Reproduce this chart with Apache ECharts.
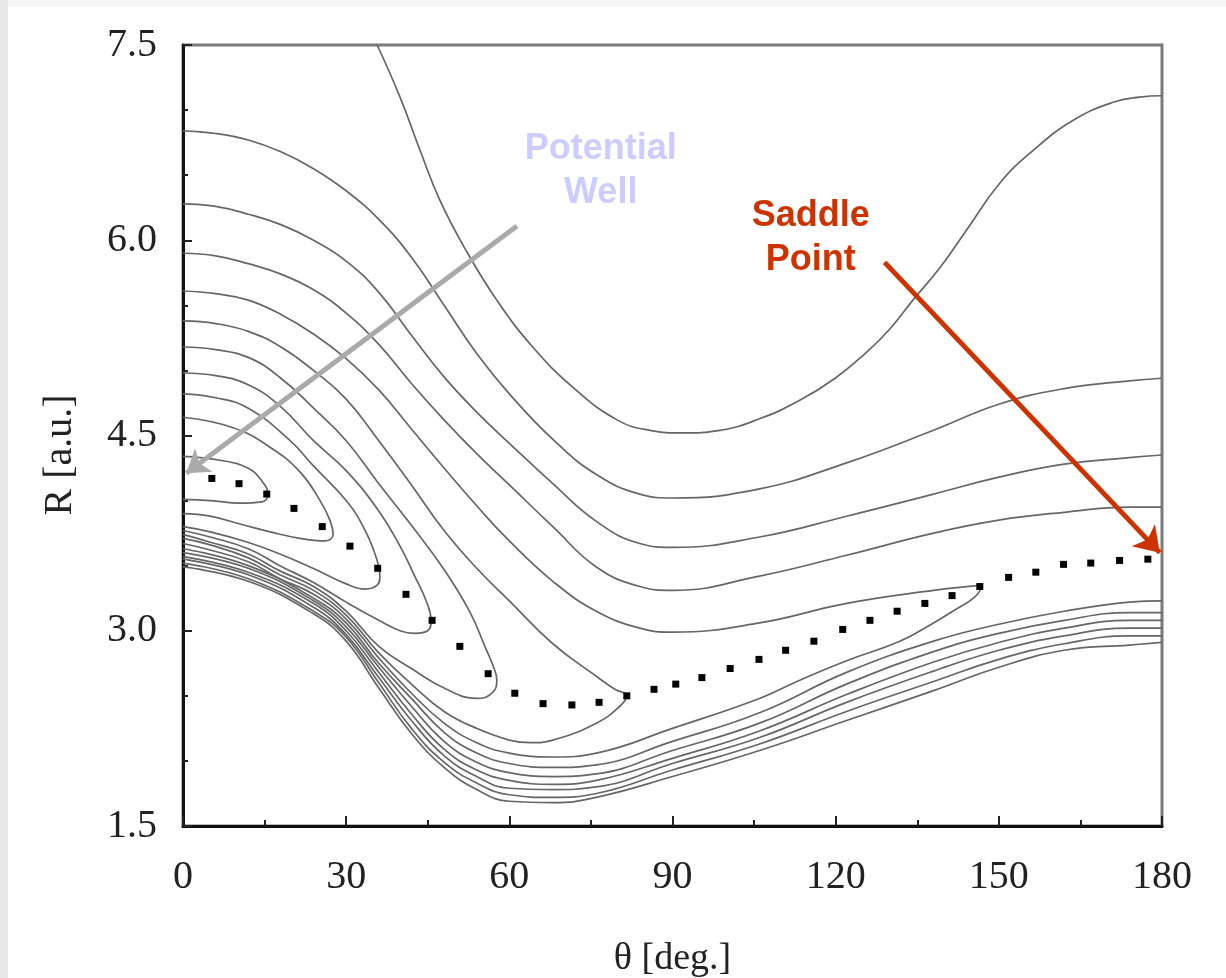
<!DOCTYPE html>
<html><head><meta charset="utf-8">
<script src="https://cdn.jsdelivr.net/npm/echarts@6/dist/echarts.min.js"></script>
<style>html,body{margin:0;padding:0;background:#fff}#c{width:1226px;height:978px}</style>
</head><body><div id="c"></div>
<script>
// theta samples shared by some contour branches
const upperTheta = [0,6,12,18,24,30,36,42,48,54,60,68,76,84,90,106,122,138,150,162,174,180];
const bandTheta  = [0,12,24,30,36,42,48,54,60,68,76,90,106,122,138,150,162,174,180];

// open contours (upper branches), R values at upperTheta
const contourB = [6.84,6.82,6.77,6.68,6.55,6.38,6.16,5.87,5.50,5.13,4.82,4.47,4.20,4.05,4.02,4.09,4.29,4.54,4.74,4.86,4.92,4.94];
const contourC = [6.28,6.26,6.20,6.12,6.00,5.84,5.60,5.27,4.95,4.68,4.44,4.13,3.84,3.67,3.64,3.72,3.88,4.05,4.18,4.28,4.33,4.35];
const contourD = [5.90,5.88,5.82,5.74,5.62,5.44,5.20,4.90,4.62,4.36,4.12,3.80,3.49,3.34,3.31,3.42,3.58,3.75,3.85,3.91,3.95,3.95];

// lower branches along the repulsive wall, R values at bandTheta
const lowerP1 = [3.63,3.50,3.25,3.06,2.75,2.48,2.22,2.06,1.98,1.95,1.97,2.15,2.37,2.68,2.92,3.05,3.15,3.22,3.23];
const lowerP2 = [3.60,3.48,3.23,3.03,2.72,2.42,2.15,1.99,1.91,1.88,1.90,2.08,2.29,2.59,2.84,2.98,3.08,3.14,3.14];
const lowerP3 = [3.57,3.45,3.21,3.00,2.68,2.36,2.09,1.93,1.85,1.82,1.85,2.02,2.23,2.51,2.76,2.91,3.02,3.08,3.08];
const lowerP4 = [3.55,3.43,3.18,2.97,2.64,2.31,2.04,1.88,1.79,1.78,1.80,1.98,2.18,2.45,2.69,2.85,2.96,3.02,3.02];
const lowerP5 = [3.52,3.40,3.15,2.95,2.60,2.25,1.99,1.83,1.74,1.72,1.75,1.93,2.13,2.38,2.61,2.78,2.90,2.96,2.96];
const lowerP6 = [3.49,3.38,3.13,2.92,2.56,2.21,1.95,1.78,1.69,1.68,1.72,1.88,2.08,2.31,2.54,2.72,2.85,2.89,2.91];

// outermost contour (top edge to right edge)
const contourA = [[35.7,7.50],[39.9,7.10],[43.6,6.69],[47.2,6.31],[51.8,5.94],[57.7,5.54],[64.3,5.18],[71.7,4.87],[79.8,4.62],[85.8,4.54],[91.9,4.52],[98.7,4.54],[106.1,4.63],[113.4,4.77],[119.9,4.94],[125.7,5.14],[130.0,5.32],[134.2,5.54],[139.2,5.79],[144.1,6.08],[150.2,6.44],[156.3,6.69],[163.6,6.92],[171.0,7.06],[175.9,7.10],[180,7.11]];

// closed loops around the well (clipped at theta = 0)
const loopE = [[0,5.61],[6,5.59],[12,5.54],[18,5.43],[24,5.28],[30,5.09],[36,4.85],[42,4.55],[48,4.25],[54,3.96],[60,3.69],[68,3.38],[76,3.15],[84,3.02],[90,2.99],[106,3.06],[122,3.21],[138,3.31],[147,3.35],[145.6,3.26],[141.9,3.16],[138,3.06],[131.8,2.92],[122,2.77],[113.4,2.62],[106,2.48],[90,2.25],[76,2.06],[68,2.03],[60,2.06],[54,2.14],[48,2.29],[42,2.52],[36,2.79],[30,3.09],[24,3.28],[17.8,3.40],[12,3.53],[5,3.62],[0,3.67]];
const loop6 = [[0,5.38],[6,5.36],[12,5.30],[18,5.18],[24,5.00],[30,4.78],[36,4.46],[42,4.12],[48,3.77],[54,3.48],[60,3.23],[68,2.90],[76,2.65],[79.4,2.55],[81.6,2.50],[80.3,2.42],[76,2.29],[68,2.16],[64,2.14],[60,2.16],[54,2.25],[48,2.38],[42,2.59],[36,2.83],[30,3.12],[24,3.31],[17.8,3.43],[12,3.56],[5,3.66],[0,3.71]];
const loop5 = [[0,5.18],[6,5.16],[12,5.10],[18,4.94],[24,4.71],[30,4.46],[36,4.13],[42,3.81],[48,3.47],[52.8,3.14],[55.5,2.88],[57.2,2.71],[57.7,2.62],[56.8,2.52],[54,2.48],[48,2.56],[42,2.71],[36,2.88],[30,3.15],[24,3.34],[17.8,3.46],[12,3.59],[5,3.68],[0,3.74]];
const loop4 = [[0,4.98],[6,4.96],[12,4.89],[18,4.72],[24,4.46],[30,4.23],[36,3.92],[39.9,3.65],[42.6,3.42],[44.7,3.23],[45.6,3.08],[45.0,3.00],[42.6,2.98],[39.9,3.00],[36,3.08],[30,3.22],[24,3.37],[17.8,3.50],[12,3.63],[5,3.72],[0,3.77]];
const loop3 = [[0,4.82],[6,4.79],[12,4.71],[19.7,4.46],[23.9,4.27],[30,4.00],[33.5,3.77],[35.7,3.54],[36.2,3.42],[35.7,3.35],[33.5,3.32],[30,3.36],[23.9,3.48],[17.8,3.59],[11.9,3.68],[5,3.76],[0,3.80]];
const loop2 = [[0,4.64],[9.2,4.56],[16,4.41],[21.5,4.22],[25.2,4.00],[27,3.85],[27.6,3.74],[26.1,3.69],[21.5,3.71],[16,3.76],[10.5,3.82],[5,3.88],[0,3.90]];
const loop1 = [[0,4.34],[6.8,4.31],[11.9,4.25],[14.5,4.15],[15.6,4.05],[14.5,3.99],[10.5,3.98],[5,4.00],[0,4.01]];

// minimum energy path (dots)
const pathDots = [[5.3,4.17],[10.3,4.13],[15.4,4.05],[20.4,3.94],[25.6,3.80],[30.7,3.65],[35.8,3.48],[41.0,3.28],[45.8,3.08],[50.9,2.88],[56.1,2.67],[61.0,2.52],[66.2,2.44],[71.5,2.43],[76.5,2.45],[81.6,2.50],[86.6,2.55],[90.6,2.59],[95.4,2.64],[100.6,2.71],[105.9,2.78],[110.8,2.85],[116.0,2.92],[121.3,3.01],[126.3,3.08],[131.3,3.15],[136.4,3.21],[141.4,3.27],[146.5,3.34],[151.8,3.41],[156.8,3.45],[161.9,3.51],[166.9,3.52],[172.2,3.54],[177.4,3.55]];

// annotations (data coordinates)
const wellArrow = [[61.4,6.11],[0.6,4.21]];
const saddleArrow = [[129.0,5.83],[179.6,3.60]];
const wellLabelPos = [76.8,6.53];
const saddleLabelPos = [115.4,6.02];

const zip = (th, rs) => th.map((t, i) => [t, rs[i]]);
const contourStyle = {color: '#666666', width: 1.7};
function contour(name, data) {
  return {name, type: 'line', data, showSymbol: false, symbol: 'none', smooth: 0.45,
    lineStyle: contourStyle, silent: true, z: 2};
}

const serif = '"Liberation Serif","Times New Roman",serif';
const chart = echarts.init(document.getElementById('c'), null, {renderer: 'canvas'});
chart.setOption({
  animation: false,
  backgroundColor: '#ffffff',
  graphic: [
    {type: 'rect', left: 0, top: 0, shape: {width: 1226, height: 7}, style: {fill: '#f6f6f6'}, z: -10},
    {type: 'rect', left: 0, top: 0, shape: {width: 8, height: 978}, style: {fill: '#e8e8e8'}, z: -10},
    {type: 'text', x: 60, y: 455, rotation: Math.PI / 2,
      style: {text: 'R [a.u.]', font: '40px ' + serif, fill: '#222', align: 'center', verticalAlign: 'middle'}}
  ],
  grid: {left: 183, right: 64, top: 45, bottom: 152, containLabel: false, outerBoundsMode: 'none',
    show: true, borderColor: '#7a7a7a', borderWidth: 3, backgroundColor: '#fff'},
  xAxis: {
    type: 'value', min: 0, max: 180, interval: 30,
    name: 'θ [deg.]', nameLocation: 'middle', nameGap: 114,
    nameTextStyle: {fontFamily: serif, fontSize: 38, color: '#222'},
    axisLine: {show: true, lineStyle: {color: '#111', width: 3}},
    axisTick: {show: true, inside: true, length: 10, lineStyle: {color: '#222', width: 2}},
    minorTick: {show: true, splitNumber: 2, length: 6, lineStyle: {color: '#222', width: 2}},
    axisLabel: {fontFamily: serif, fontSize: 40, color: '#222', margin: 31},
    splitLine: {show: false}
  },
  yAxis: {
    type: 'value', min: 1.5, max: 7.5, interval: 1.5,
    axisLine: {show: true, lineStyle: {color: '#111', width: 3}},
    axisTick: {show: true, inside: true, length: 9, lineStyle: {color: '#222', width: 2}},
    minorTick: {show: true, splitNumber: 3, length: 5, lineStyle: {color: '#222', width: 2}},
    axisLabel: {fontFamily: serif, fontSize: 40, color: '#222', margin: 26, formatter: v => v.toFixed(1)},
    splitLine: {show: false}
  },
  series: [
    contour('A', contourA),
    contour('B', zip(upperTheta, contourB)),
    contour('C', zip(upperTheta, contourC)),
    contour('D', zip(upperTheta, contourD)),
    contour('E', loopE),
    contour('L6', loop6),
    contour('L5', loop5),
    contour('L4', loop4),
    contour('L3', loop3),
    contour('L2', loop2),
    contour('L1', loop1),
    contour('P1', zip(bandTheta, lowerP1)),
    contour('P2', zip(bandTheta, lowerP2)),
    contour('P3', zip(bandTheta, lowerP3)),
    contour('P4', zip(bandTheta, lowerP4)),
    contour('P5', zip(bandTheta, lowerP5)),
    contour('P6', zip(bandTheta, lowerP6)),
    {
      name: 'path', type: 'scatter', data: pathDots, symbol: 'rect', symbolSize: 7,
      itemStyle: {color: '#000', opacity: 1}, silent: true, z: 5,
      markLine: {
        silent: true, symbol: ['none', 'arrow'], animation: false,
        label: {show: false},
        emphasis: {disabled: true},
        data: [
          [{coord: wellArrow[0], symbolSize: 0}, {coord: wellArrow[1], symbolSize: 22,
            lineStyle: {color: '#aaaaaa', width: 5, type: 'solid', opacity: 1}, itemStyle: {color: '#aaaaaa', opacity: 1}}],
          [{coord: saddleArrow[0], symbolSize: 0}, {coord: saddleArrow[1], symbolSize: 24,
            lineStyle: {color: '#cc3300', width: 5, type: 'solid', opacity: 1}, itemStyle: {color: '#cc3300', opacity: 1}}]
        ],
        lineStyle: {type: 'solid', width: 5, opacity: 1}
      }
    },
    {
      name: 'labels', type: 'scatter', symbolSize: 0, silent: true, z: 6,
      itemStyle: {opacity: 1},
      data: [
        {value: wellLabelPos, label: {formatter: 'Potential\nWell', color: '#ccccff'}},
        {value: saddleLabelPos, label: {formatter: 'Saddle\nPoint', color: '#cc3300'}}
      ],
      label: {show: true, position: 'inside', align: 'center', verticalAlign: 'middle', opacity: 1,
        fontFamily: '"Liberation Sans",Arial,sans-serif', fontWeight: 'bold', fontSize: 36, lineHeight: 44}
    }
  ]
});
</script>
</body></html>
